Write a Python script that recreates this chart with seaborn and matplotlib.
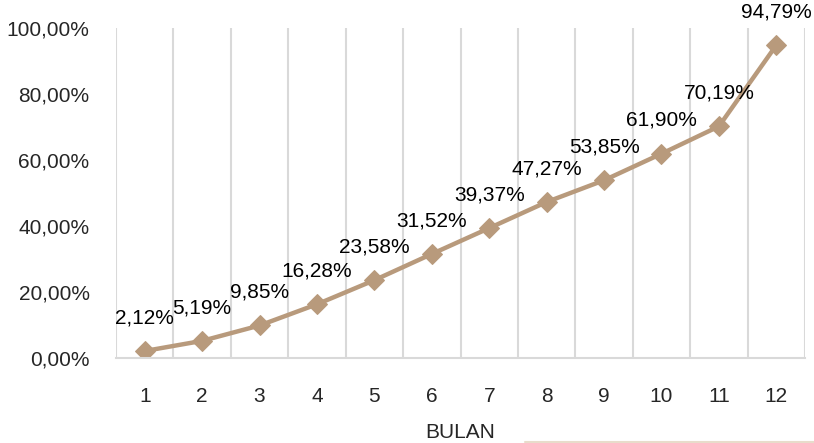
import matplotlib
matplotlib.use("Agg")
import matplotlib.pyplot as plt
import seaborn as sns
import pandas as pd
from matplotlib.lines import Line2D

months = [1, 2, 3, 4, 5, 6, 7, 8, 9, 10, 11, 12]
values = [2.12, 5.19, 9.85, 16.28, 23.58, 31.52, 39.37, 47.27, 53.85, 61.90, 70.19, 94.79]
month_labels = ["1", "2", "3", "4", "5", "6", "7", "8", "9", "10", "11", "12"]
y_ticks = [0, 20, 40, 60, 80, 100]

sns.set_theme(style="white")
plt.rcParams['font.family'] = ['Liberation Sans', 'DejaVu Sans']

df = pd.DataFrame({"BULAN": months, "val": values})

fig = plt.figure(figsize=(8.14, 4.43), dpi=100)
ax = fig.add_axes([116/814, 1-358/443, (805-116)/814, (358-28)/443])

color = "#b89a7c"
sns.lineplot(data=df, x="BULAN", y="val", ax=ax, color=color, linewidth=3.2,
             marker="D", markersize=10.5, markeredgecolor=color, markerfacecolor=color)

def fmt(v):
    return f"{v:.2f}".replace(".", ",") + "%"

fs = 15
for m, v in zip(months, values):
    ax.annotate(fmt(v), (m, v), xytext=(0, 24), textcoords="offset points",
                ha="center", va="center", fontsize=fs, color="black")

ax.set_xlim(0.5, 12.5)
ax.set_ylim(0, 100)
ax.set_xticks(months)
ax.set_xticklabels(month_labels, fontsize=fs)
ax.set_yticks(y_ticks)
ax.set_yticklabels([fmt(t) for t in y_ticks], fontsize=fs)
ax.tick_params(axis="x", length=0, pad=21)
ax.tick_params(axis="y", length=0, pad=19)

for b in [x + 0.5 for x in range(0, 13)]:
    ax.axvline(b, color="#d9d9d9", linewidth=1.5, zorder=0)

for s in ["top", "left", "right"]:
    ax.spines[s].set_visible(False)
ax.spines["bottom"].set_color("#d9d9d9")
ax.spines["bottom"].set_linewidth(1.5)

ax.set_xlabel("BULAN", fontsize=fs, labelpad=12)
ax.set_ylabel("")

fig.add_artist(Line2D([525/814, 1.0], [1.0/443, 1.0/443], color="#e8dccb", linewidth=1.5))

fig.savefig("out.png", dpi=100)
